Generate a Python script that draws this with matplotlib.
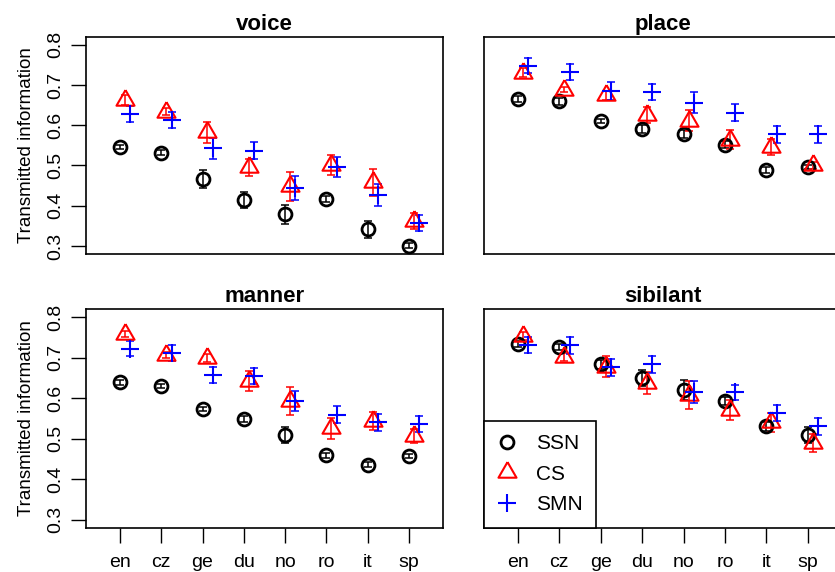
import matplotlib
matplotlib.use('Agg')
import matplotlib.pyplot as plt
from matplotlib.lines import Line2D
import numpy as np

plt.rcParams['font.family'] = ['Liberation Sans', 'DejaVu Sans']

languages = ['en', 'cz', 'ge', 'du', 'no', 'ro', 'it', 'sp']
panel_titles = ['voice', 'place', 'manner', 'sibilant']
conditions = ['SSN', 'CS', 'SMN']

# voice
voice_ssn = [0.546, 0.532, 0.467, 0.415, 0.379, 0.417, 0.341, 0.301]
voice_ssn_err = [0.006, 0.006, 0.022, 0.020, 0.024, 0.007, 0.022, 0.007]
voice_cs = [0.662, 0.634, 0.583, 0.495, 0.448, 0.502, 0.458, 0.362]
voice_cs_err = [0.012, 0.008, 0.026, 0.022, 0.037, 0.025, 0.033, 0.020]
voice_smn = [0.627, 0.614, 0.543, 0.537, 0.444, 0.497, 0.427, 0.357]
voice_smn_err = [0.020, 0.020, 0.026, 0.021, 0.030, 0.025, 0.028, 0.020]

# place
place_ssn = [0.665, 0.659, 0.611, 0.590, 0.579, 0.552, 0.489, 0.496]
place_ssn_err = [0.008, 0.008, 0.005, 0.010, 0.010, 0.008, 0.008, 0.005]
place_cs = [0.731, 0.688, 0.674, 0.626, 0.611, 0.564, 0.545, 0.500]
place_cs_err = [0.010, 0.006, 0.012, 0.020, 0.026, 0.023, 0.020, 0.008]
place_smn = [0.748, 0.733, 0.685, 0.682, 0.656, 0.631, 0.578, 0.578]
place_smn_err = [0.019, 0.020, 0.022, 0.020, 0.026, 0.021, 0.021, 0.021]

# manner
manner_ssn = [0.639, 0.630, 0.573, 0.548, 0.508, 0.459, 0.435, 0.457]
manner_ssn_err = [0.006, 0.006, 0.006, 0.008, 0.020, 0.006, 0.006, 0.006]
manner_cs = [0.758, 0.707, 0.698, 0.642, 0.593, 0.525, 0.543, 0.507]
manner_cs_err = [0.008, 0.008, 0.010, 0.024, 0.034, 0.025, 0.022, 0.017]
manner_smn = [0.722, 0.712, 0.658, 0.654, 0.593, 0.559, 0.540, 0.537]
manner_smn_err = [0.019, 0.020, 0.020, 0.020, 0.025, 0.021, 0.020, 0.020]

# sibilant
sibilant_ssn = [0.734, 0.726, 0.683, 0.649, 0.620, 0.592, 0.530, 0.508]
sibilant_ssn_err = [0.008, 0.008, 0.010, 0.020, 0.025, 0.010, 0.010, 0.020]
sibilant_cs = [0.754, 0.701, 0.678, 0.637, 0.607, 0.570, 0.540, 0.489]
sibilant_cs_err = [0.010, 0.010, 0.025, 0.027, 0.035, 0.025, 0.024, 0.022]
sibilant_smn = [0.731, 0.730, 0.676, 0.683, 0.616, 0.614, 0.564, 0.531]
sibilant_smn_err = [0.019, 0.020, 0.021, 0.021, 0.027, 0.019, 0.020, 0.021]

panel_data = {
    'voice': [(voice_ssn, voice_ssn_err), (voice_cs, voice_cs_err), (voice_smn, voice_smn_err)],
    'place': [(place_ssn, place_ssn_err), (place_cs, place_cs_err), (place_smn, place_smn_err)],
    'manner': [(manner_ssn, manner_ssn_err), (manner_cs, manner_cs_err), (manner_smn, manner_smn_err)],
    'sibilant': [(sibilant_ssn, sibilant_ssn_err), (sibilant_cs, sibilant_cs_err), (sibilant_smn, sibilant_smn_err)],
}

yticks = [0.3, 0.4, 0.5, 0.6, 0.7, 0.8]

# R-style triangle (centroid at the data point)
tri = [(0, 1), (0.866, -0.5), (-0.866, -0.5), (0, 1)]
colors = ['black', 'red', 'blue']
offsets = [0.0, 0.12, 0.25]
mstyles = [dict(marker='o', ms=9.3, mew=2.0),
           dict(marker=tri, ms=15, mew=1.5),
           dict(marker='+', ms=13, mew=1.5)]

fig = plt.figure(figsize=(8.35, 5.72), dpi=100)
W, H = 835.0, 572.0
rects = {
    'voice': (86 / W, 1 - 254 / H, 357 / W, 217.3 / H),
    'place': (484 / W, 1 - 254 / H, 357.7 / W, 217.3 / H),
    'manner': (86 / W, 1 - 527.7 / H, 357 / W, 218.7 / H),
    'sibilant': (484 / W, 1 - 527.7 / H, 357.7 / W, 218.7 / H),
}

x = np.arange(1, len(languages) + 1)
for name in panel_titles:
    ax = fig.add_axes(rects[name])
    for k, (vals, errs) in enumerate(panel_data[name]):
        xx = x + offsets[k]
        ax.errorbar(xx, vals, yerr=errs, fmt='none', ecolor=colors[k],
                    elinewidth=1.1, capsize=3.2, capthick=1.1, zorder=2)
        ax.plot(xx, vals, linestyle='none', color=colors[k], mfc='none',
                mec=colors[k], zorder=3, **mstyles[k])
    ax.set_xlim(0.18, 8.82)
    ax.set_ylim(0.28, 0.82)
    for s in ax.spines.values():
        s.set_linewidth(1.2)
    ax.set_title(name, fontsize=16, fontweight='bold', pad=5)
    bottom_row = name in ('manner', 'sibilant')
    left_col = name in ('voice', 'manner')
    if bottom_row:
        ax.set_xticks(x)
        ax.set_xticklabels(languages, fontsize=14)
        ax.tick_params(axis='x', length=10.8, width=1.0, pad=8)
    else:
        ax.set_xticks([])
    if left_col:
        ax.set_yticks(yticks)
        ax.set_yticklabels([f'{v:.1f}' for v in yticks], fontsize=14,
                           rotation=90, va='center')
        ax.tick_params(axis='y', length=10.8, width=1.0, pad=5)
        ax.set_ylabel('Transmitted information', fontsize=13.5, labelpad=9)
    else:
        ax.set_yticks([])
    if name == 'sibilant':
        handles = [Line2D([], [], linestyle='none', color=colors[k], mfc='none',
                          mec=colors[k], **mstyles[k]) for k in range(3)]
        leg = ax.legend(handles, conditions, loc='lower left', bbox_to_anchor=(0, 0),
                        borderaxespad=0, fontsize=15, frameon=True, fancybox=False,
                        edgecolor='black', framealpha=1, handlelength=0.9,
                        handletextpad=0.95, borderpad=0.65, labelspacing=0.55)
        leg.get_frame().set_linewidth(1.2)

fig.savefig('out.png', dpi=100)
